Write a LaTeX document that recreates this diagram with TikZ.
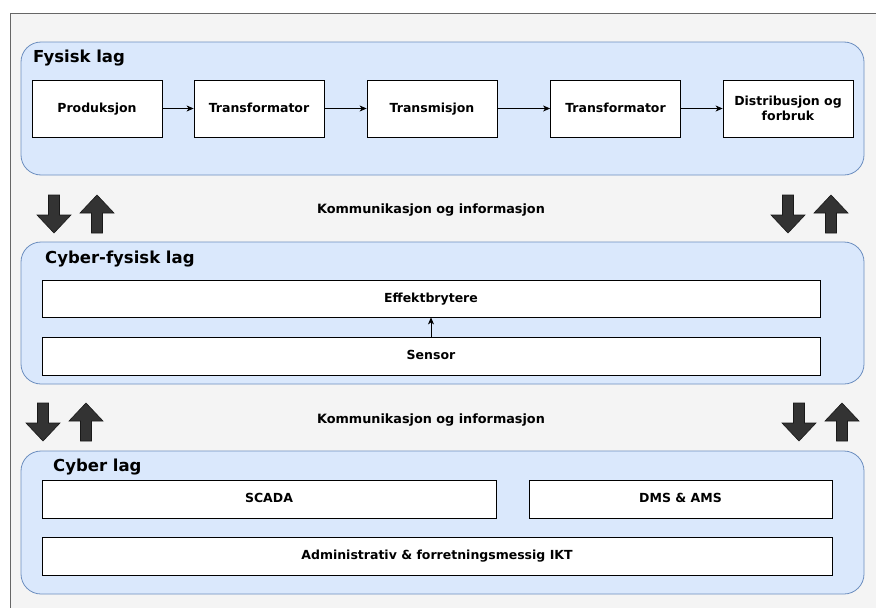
\documentclass[tikz,border=0pt]{standalone}
\usepackage{fontspec}
\setmainfont{DejaVu Sans}
\usetikzlibrary{positioning,arrows.meta}

\definecolor{layerfill}{HTML}{DAE8FC}
\definecolor{layerline}{HTML}{6C8EBF}
\definecolor{canvas}{HTML}{F4F4F4}
\definecolor{frameline}{HTML}{666666}
\definecolor{blkfill}{HTML}{333333}

\tikzset{
    blkarrow/.style={fill=blkfill, draw=black!90, line width=0.6pt, line join=miter},
    blkdown/.pic={
        \filldraw[blkarrow] (-5.5,0) -- (5.5,0) -- (5.5,20) -- (17,20) -- (0,38)
            -- (-17,20) -- (-5.5,20) -- cycle;
    },
    blkup/.pic={
        \filldraw[blkarrow] (0,0) -- (17,18) -- (5.5,18) -- (5.5,38) -- (-5.5,38)
            -- (-5.5,18) -- (-17,18) -- cycle;
    }
}

\begin{document}
\begin{tikzpicture}[
    x=1pt, y=-1pt,
    layer/.style={rectangle, draw=layerline, fill=layerfill, line width=0.8pt,
        rounded corners=20pt, inner sep=0pt},
    layertitle/.style={anchor=base west, inner sep=0pt,
        font=\bfseries\fontsize{16.5}{19}\selectfont},
    unitbox/.style={rectangle, draw=black, fill=white, line width=0.8pt,
        text centered, inner sep=0pt, font=\bfseries\fontsize{12.5}{15.5}\selectfont},
    unit/.style={unitbox, text height=9.5pt, text depth=2.5pt},
    infotext/.style={anchor=base, inner sep=0pt,
        font=\bfseries\fontsize{12.8}{15}\selectfont},
    flow/.style={-{Stealth[length=7pt, width=6pt, inset=2pt]}, line width=0.8pt}
]
\useasboundingbox (0,0) rectangle (876,608);
% background
\fill[canvas] (10,13) rectangle (876,608);
\draw[frameline, line width=0.8pt] (876,13) -- (10,13) -- (10,608);

% Fysisk lag
\node (fysisk) [layer, minimum width=843pt, minimum height=133pt] at (442.5,108.5) {};
\node (fysisklbl) [layertitle] at (33,62) {Fysisk lag};
\node (prod) [unit, minimum width=130pt, minimum height=57pt] at (97,108.5) {Produksjon};
\node (trafo1) [unit, minimum width=130pt, minimum height=57pt] at (259,108.5) {Transformator};
\node (trans) [unit, minimum width=130pt, minimum height=57pt] at (432,108.5) {Transmisjon};
\node (trafo2) [unit, minimum width=130pt, minimum height=57pt] at (615.5,108.5) {Transformator};
\node (dist) [unitbox, minimum width=130pt, minimum height=57pt, align=center] at (788,108.5)
    {Distribusjon og\\forbruk};
\draw[flow] (prod) -- (trafo1);
\draw[flow] (trafo1) -- (trans);
\draw[flow] (trans) -- (trafo2);
\draw[flow] (trafo2) -- (dist);

% Kommunikasjon (top)
\pic at (54,195) {blkdown};
\pic at (97,195) {blkup};
\pic at (788,195) {blkdown};
\pic at (831,195) {blkup};
\node (komm1) [infotext] at (431,213) {Kommunikasjon og informasjon};

% Cyber-fysisk lag
\node (cyfys) [layer, minimum width=843pt, minimum height=142pt] at (442.5,313) {};
\node (cyfyslbl) [layertitle] at (45,263) {Cyber-fysisk lag};
\node (effekt) [unit, minimum width=778pt, minimum height=37pt] at (431,298.5) {Effektbrytere};
\node (sensor) [unit, minimum width=778pt, minimum height=38pt] at (431,356) {Sensor};
\draw[flow] (sensor) -- (effekt);

% Kommunikasjon (bottom)
\pic at (43,403) {blkdown};
\pic at (86,403) {blkup};
\pic at (799,403) {blkdown};
\pic at (842,403) {blkup};
\node (komm2) [infotext] at (431,423) {Kommunikasjon og informasjon};

% Cyber lag
\node (cyber) [layer, minimum width=843pt, minimum height=143pt] at (442.5,522.5) {};
\node (cyberlbl) [layertitle] at (53,471) {Cyber lag};
\node (scada) [unit, minimum width=454pt, minimum height=38pt] at (269,499) {SCADA};
\node (dms) [unit, minimum width=303pt, minimum height=38pt] at (680.5,499) {DMS \& AMS};
\node (ikt) [unit, minimum width=790pt, minimum height=38pt] at (437,556)
    {Administrativ \& forretningsmessig IKT};
\end{tikzpicture}
\end{document}
